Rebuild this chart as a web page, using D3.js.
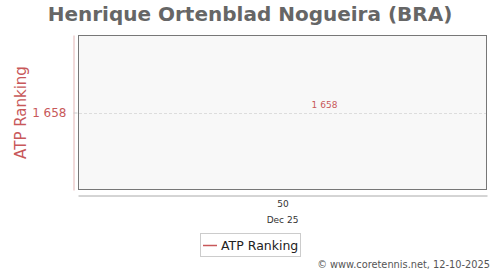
<!DOCTYPE html>
<html>
<head>
<meta charset="utf-8">
<script src="https://cdn.jsdelivr.net/npm/d3@7"></script>
<style>
  body { margin: 0; background: #fff; }
  text { font-family: "DejaVu Sans", sans-serif; }
</style>
</head>
<body>
<div id="chart"></div>
<script>
// data
var weeks = [50];
var months = ["Dec 25"];
var ranking = [1658];
var yTicks = [1658];

var width = 500,
    height = 270,
    red = "#c8585a";

var fmt = d3.formatLocale({decimal: ".", thousands: " ", grouping: [3], currency: ["", ""]}).format(",d");

var svg = d3.select("#chart").append("svg")
  .attr("width", width)
  .attr("height", height);

var plot = {left: 78, right: 487, top: 35, bottom: 190};

var x = d3.scaleLinear()
  .domain([weeks[0] - 1, weeks[0] + 1])
  .range([plot.left, plot.right]);

var y = d3.scaleLinear()
  .domain([ranking[0] + 1, ranking[0] - 1])
  .range([plot.bottom, plot.top]);

// title
svg.append("text")
  .attr("x", 250)
  .attr("y", 21)
  .attr("text-anchor", "middle")
  .style("font-size", "20px")
  .style("font-weight", "bold")
  .style("fill", "#666")
  .text("Henrique Ortenblad Nogueira (BRA)");

// plot area
svg.append("rect")
  .attr("x", plot.left + 0.5)
  .attr("y", plot.top + 0.5)
  .attr("width", plot.right - plot.left - 1)
  .attr("height", plot.bottom - plot.top - 1)
  .style("fill", "#f8f8f8")
  .style("stroke", "#777")
  .style("stroke-width", 1);

// grid
svg.selectAll(".grid")
  .data(yTicks)
  .enter().append("line")
  .attr("x1", plot.left + 1)
  .attr("x2", plot.right - 1)
  .attr("y1", function(d) { return Math.round(y(d)) + 0.5; })
  .attr("y2", function(d) { return Math.round(y(d)) + 0.5; })
  .style("stroke", "#ddd")
  .style("stroke-dasharray", "3,2");

// left axis
var yAxis = svg.append("g")
  .attr("transform", "translate(73.5,0)")
  .call(d3.axisLeft(y).tickValues(yTicks).tickFormat(fmt).tickSize(4).tickSizeOuter(0));
yAxis.select(".domain").style("stroke", "#e3b5b5");
yAxis.selectAll(".tick line").style("stroke", "#ccc").attr("x1", 0).attr("x2", 4);
yAxis.selectAll(".tick text")
  .attr("x", -7)
  .style("font-size", "12px")
  .style("font-family", "DejaVu Sans, sans-serif")
  .style("fill", red);

// y title
svg.append("text")
  .attr("transform", "translate(26," + ((plot.top + plot.bottom) / 2) + ") rotate(-90)")
  .attr("text-anchor", "middle")
  .style("font-size", "15px")
  .style("fill", red)
  .text("ATP Ranking");

// bottom axis
var xAxis = svg.append("g")
  .attr("transform", "translate(0,195.5)")
  .call(d3.axisBottom(x).tickValues(weeks).tickFormat(d3.format("d")).tickSize(0).tickSizeOuter(0));
xAxis.select(".domain").style("stroke", "#aaa");
xAxis.selectAll(".tick text")
  .attr("y", 5)
  .style("font-size", "9px")
  .style("font-family", "DejaVu Sans, sans-serif")
  .style("fill", "#333");

svg.selectAll(".month")
  .data(months)
  .enter().append("text")
  .attr("x", function(d, i) { return x(weeks[i]); })
  .attr("y", 223)
  .attr("text-anchor", "middle")
  .style("font-size", "9px")
  .style("fill", "#333")
  .text(function(d) { return d; });

// point labels
svg.selectAll(".val")
  .data(ranking)
  .enter().append("text")
  .attr("x", function(d, i) { return x(weeks[i]) + 42; })
  .attr("y", function(d) { return y(d) - 5; })
  .attr("text-anchor", "middle")
  .style("font-size", "9px")
  .style("fill", red)
  .text(function(d) { return fmt(d); });

// legend
var lg = svg.append("g").attr("transform", "translate(200,233)");
lg.append("rect")
  .attr("x", 0.5).attr("y", 0.5)
  .attr("width", 100).attr("height", 23)
  .style("fill", "#fff")
  .style("stroke", "#ccc");
lg.append("line")
  .attr("x1", 3).attr("x2", 17)
  .attr("y1", 12.5).attr("y2", 12.5)
  .style("stroke", red)
  .style("stroke-width", 1.5);
lg.append("text")
  .attr("x", 21).attr("y", 17)
  .style("font-size", "12.5px")
  .style("fill", "#222")
  .text("ATP Ranking");

// footer
svg.append("text")
  .attr("x", 490)
  .attr("y", 268)
  .attr("text-anchor", "end")
  .style("font-size", "9.8px")
  .style("fill", "#555")
  .text("\u00a9 www.coretennis.net, 12-10-2025");
</script>
</body>
</html>
